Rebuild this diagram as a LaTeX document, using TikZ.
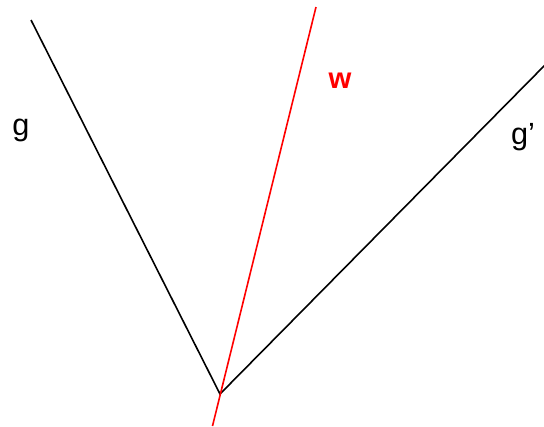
\documentclass[tikz,border=0pt]{standalone}
\usepackage{fontspec}
\setmainfont{Liberation Sans}
\begin{document}
\begin{tikzpicture}[x=0.75pt,y=-0.75pt,
  blackline/.style={line width=1.2pt,black},
  redline/.style={line width=1.2pt,red},
  lbl/.style={font=\fontsize{23}{27}\selectfont,inner sep=0pt}]
\useasboundingbox (0,0) rectangle (544,426);
\coordinate (v) at (220,394);
\coordinate (gtop) at (31,20);
\coordinate (gptop) at (546,64);
\coordinate (wtop) at (316,7);
\coordinate (wbot) at (212.5,426);
\draw[blackline] (gtop) -- (v) -- (gptop);
\draw[redline] (wtop) -- (wbot);
\node[lbl] (g) at (21,130) {g};
\node[lbl] (gp) at (523,137) {g'};
\node[lbl,text=red,font=\fontsize{22}{26}\selectfont\bfseries] (w) at (340,81) {w};
\end{tikzpicture}
\end{document}
